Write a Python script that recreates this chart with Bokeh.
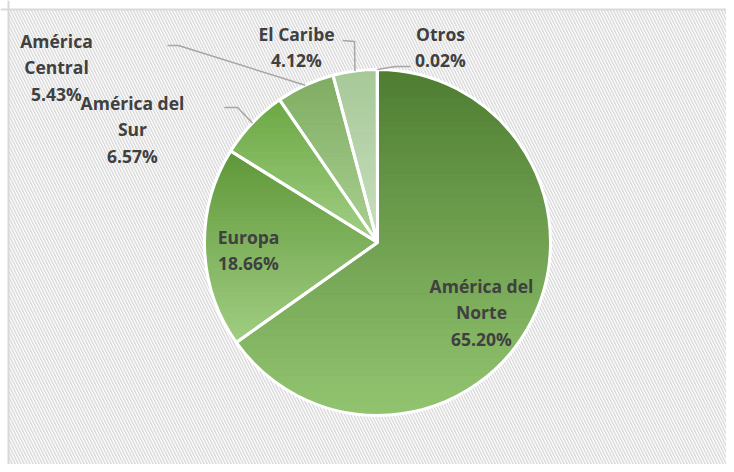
import numpy as np
from bokeh.plotting import figure
from bokeh.models import Range1d, BoxAnnotation, Span
from bokeh.core.properties import value
from bokeh.embed import file_html
from bokeh.resources import INLINE

# ---- data ----
regions = ["América del Norte", "Europa", "América del Sur", "América Central", "El Caribe", "Otros"]
shares = [65.20, 18.66, 6.57, 5.43, 4.12, 0.02]
name_lines = [["América del", "Norte"], ["Europa"], ["América del", "Sur"],
              ["América", "Central"], ["El Caribe"], ["Otros"]]
top_colors = ["#4e7d31", "#5f9739", "#6ba843", "#7fad62", "#a6c897", "#c0dab5"]
bottom_colors = ["#93c571", "#a1ce83", "#a3cf86", "#abd093", "#c9e0bf", "#d5e8cd"]

# ---- layout constants (page pixels) ----
W, H = 726, 464
OX, OY = 0, 0
def dx(X):
    return X - OX
def dy(Y):
    return H - (Y - OY)

CX, CY, R = dx(377), dy(242), 173.0
label_anchor = [(481, 285), (248, 236), (132, 102), (56, 40), (296, 33), (440, 33)]
LINE_PITCH = 26.5
elbows = [None, None, [(224, 107), (237, 107)], [(167, 45), (178, 45)],
          [(342, 40), (354, 41)], [(410, 66), (395, 66)]]

# ---- geometry from data ----
total = sum(shares)
cum = np.concatenate([[0], np.cumsum(shares)])
start_ang = np.pi / 2 - 2 * np.pi * cum[:-1] / total
end_ang = np.pi / 2 - 2 * np.pi * cum[1:] / total
mid_ang = (start_ang + end_ang) / 2

def hex2rgb(h):
    h = h.lstrip("#")
    return np.array([int(h[i:i + 2], 16) for i in (0, 2, 4)], dtype=float)

def rgb2hex(c):
    c = np.clip(np.round(c), 0, 255).astype(int)
    return "#%02x%02x%02x" % tuple(c)

def clip(poly, y, keep_above):
    out = []
    n = len(poly)
    for k in range(n):
        P = poly[k]
        Q = poly[(k + 1) % n]
        inP = P[1] >= y if keep_above else P[1] <= y
        inQ = Q[1] >= y if keep_above else Q[1] <= y
        if inQ:
            if not inP:
                t = (y - P[1]) / (Q[1] - P[1])
                out.append((P[0] + t * (Q[0] - P[0]), y))
            out.append(Q)
        elif inP:
            t = (y - P[1]) / (Q[1] - P[1])
            out.append((P[0] + t * (Q[0] - P[0]), y))
    return out

p = figure(width=W, height=H, x_range=Range1d(0, W), y_range=Range1d(0, H),
           output_backend="svg", toolbar_location=None, min_border=0,
           x_axis_type=None, y_axis_type=None)
p.grid.visible = False
p.outline_line_color = None
p.background_fill_color = "white"
p.border_fill_color = "white"

# hatched chart area (starts at the chart border)
hatch = BoxAnnotation(left=dx(8), top=dy(9), fill_color=None, line_color=None,
                      hatch_pattern="left_diagonal_line",
                      hatch_color="#dcdcdc", hatch_scale=6, hatch_weight=1.6, level="underlay")
p.add_layout(hatch)

# base wedges
mid_colors = [rgb2hex((hex2rgb(a) + hex2rgb(b)) / 2) for a, b in zip(top_colors, bottom_colors)]
p.wedge(x=CX, y=CY, radius=R, start_angle=list(start_ang), end_angle=list(end_ang),
        direction="clock", fill_color=mid_colors, line_color=None)

# vertical gradient overlay built per slice
bxs, bys, bcols = [], [], []
NB = 60
for i in range(len(shares)):
    a0, a1 = start_ang[i], end_ang[i]
    npts = max(3, int(abs(a0 - a1) * 180 / np.pi) + 2)
    angs = np.linspace(a0, a1, npts)
    poly = [(CX, CY)] + [(CX + R * np.cos(a), CY + R * np.sin(a)) for a in angs]
    ys = [q[1] for q in poly]
    ymax, ymin = max(ys), min(ys)
    if ymax - ymin < 1e-6:
        continue
    ct, cb = hex2rgb(top_colors[i]), hex2rgb(bottom_colors[i])
    edges = np.linspace(ymax, ymin, NB + 1)
    for b in range(NB):
        yt, yb = edges[b], edges[b + 1]
        pc = clip(clip(poly, yt, False), yb, True)
        if len(pc) < 3:
            continue
        t = (b + 0.5) / NB
        bxs.append([q[0] for q in pc])
        bys.append([q[1] for q in pc])
        bcols.append(rgb2hex(ct + t * (cb - ct)))
p.patches(xs=bxs, ys=bys, fill_color=bcols, line_color=bcols, line_width=0.8)

# white slice outlines
p.wedge(x=CX, y=CY, radius=R, start_angle=list(start_ang), end_angle=list(end_ang),
        direction="clock", fill_color=None, line_color="white", line_width=3)

# leader lines
lxs, lys = [], []
for i, el in enumerate(elbows):
    if el is None:
        continue
    ex = CX + R * np.cos(mid_ang[i])
    ey = CY + R * np.sin(mid_ang[i])
    lxs.append([dx(el[0][0]), dx(el[1][0]), ex])
    lys.append([dy(el[0][1]), dy(el[1][1]), ey])
p.multi_line(xs=lxs, ys=lys, line_color="#a6a6a6", line_width=1.5)

# labels
tx, ty, tt = [], [], []
for i in range(len(shares)):
    lines = name_lines[i] + ["%.2f%%" % shares[i]]
    X, Y = label_anchor[i]
    for k, s in enumerate(lines):
        tx.append(dx(X))
        ty.append(dy(Y + k * LINE_PITCH))
        tt.append(s)
p.text(x=tx, y=ty, text=tt, text_font=value("Open Sans"), text_font_style="bold",
       text_font_size="17.5px", text_color="#404040", text_align="center", text_baseline="middle")

# chart border (top and left visible in the window)
p.add_layout(Span(location=dy(9), dimension="width", line_color="#d9d9d9", line_width=2))
p.add_layout(Span(location=dx(8), dimension="height", line_color="#d9d9d9", line_width=2))

open("out.html", "w").write(file_html(p, INLINE))
